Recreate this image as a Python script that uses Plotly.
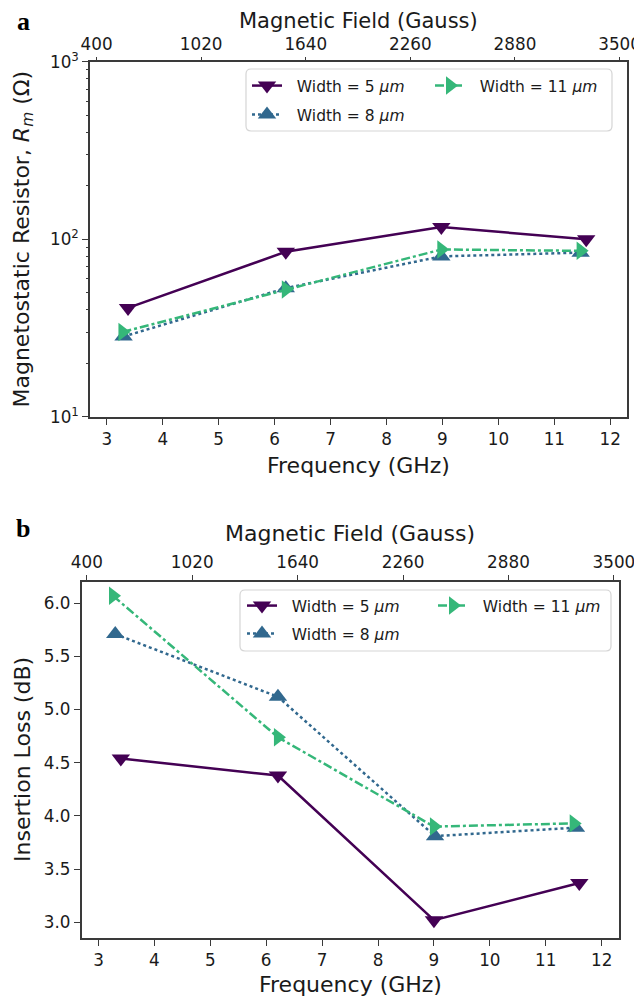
import plotly.graph_objects as go

# ---- data ----
freq_5 = [3.38, 6.2, 8.98, 11.57]
freq_8 = [3.3, 6.2, 8.98, 11.47]
freq_11 = [3.28, 6.2, 8.98, 11.47]
rm_5 = [41, 85, 117, 100]
rm_8 = [28.3, 53, 80, 84]
rm_11 = [30, 52, 87.5, 86]

freq_b5 = [3.40, 6.21, 9.0, 11.6]
freq_b8 = [3.30, 6.21, 9.02, 11.54]
freq_b11 = [3.26, 6.21, 9.0, 11.5]
il_5 = [4.54, 4.38, 3.02, 3.37]
il_8 = [5.71, 5.12, 3.81, 3.89]
il_11 = [6.07, 4.74, 3.90, 3.93]

field_ticks = [400, 1020, 1640, 2260, 2880, 3500]
freq_ticks = [3, 4, 5, 6, 7, 8, 9, 10, 11, 12]
rm_major = [10, 100, 1000]
rm_major_text = ["10<sup>1</sup>", "10<sup>2</sup>", "10<sup>3</sup>"]
rm_minor = [20, 30, 40, 50, 60, 70, 80, 90, 200, 300, 400, 500, 600, 700, 800, 900]
il_ticks = [3.0, 3.5, 4.0, 4.5, 5.0, 5.5, 6.0]

series_names = ["Width = 5 <i>μm</i>", "Width = 8 <i>μm</i>", "Width = 11 <i>μm</i>"]
colors = ["#440154", "#31688e", "#35b779"]
dashes = ["solid", "dot", "dashdot"]
symbols = ["triangle-down", "triangle-up", "triangle-right"]

# page is offset by the 8px body margin
W, H = 634, 996
OFF = 8


def fx(x):
    return (x - OFF) / W


def fy(y):
    return 1 - (y - OFF) / H


FONT = "DejaVu Sans"
TXT = "#1a1a1a"
SP = "#3a3a3a"
NB = "\u00a0\u00a0"

fig = go.Figure()

panel_a = [(freq_5, rm_5), (freq_8, rm_8), (freq_11, rm_11)]
panel_b = [(freq_b5, il_5), (freq_b8, il_8), (freq_b11, il_11)]

legs_a = ["legend", "legend2", "legend3"]
legs_b = ["legend4", "legend5", "legend6"]

for i, (xs, ys) in enumerate(panel_a):
    fig.add_trace(go.Scatter(
        x=xs, y=ys, mode="lines+markers", name=NB + series_names[i],
        line=dict(color=colors[i], width=2.5, dash=dashes[i]),
        marker=dict(symbol=symbols[i], size=16, color=colors[i]),
        xaxis="x", yaxis="y", legend=legs_a[i]))
for i, (xs, ys) in enumerate(panel_b):
    fig.add_trace(go.Scatter(
        x=xs, y=ys, mode="lines+markers", name=NB + series_names[i],
        line=dict(color=colors[i], width=2.5, dash=dashes[i]),
        marker=dict(symbol=symbols[i], size=16, color=colors[i]),
        xaxis="x2", yaxis="y2", legend=legs_b[i]))

# dummy traces to activate the secondary axes (top field axes, minor log ticks)
fig.add_trace(go.Scatter(x=[400, 3500], y=[None, None], xaxis="x3", yaxis="y",
                         showlegend=False, hoverinfo="skip", mode="lines"))
fig.add_trace(go.Scatter(x=[400, 3500], y=[None, None], xaxis="x4", yaxis="y2",
                         showlegend=False, hoverinfo="skip", mode="lines"))
fig.add_trace(go.Scatter(x=[None], y=[None], xaxis="x", yaxis="y3",
                         showlegend=False, hoverinfo="skip", mode="lines"))

dom_a_x = [fx(90), fx(626.5)]
dom_a_y = [fy(416.7), fy(61.7)]
dom_b_x = [fx(81.7), fx(619)]
dom_b_y = [fy(937.7), fy(582.3)]

tickfont = dict(family=FONT, size=16.8, color=TXT)

axis_style = dict(showgrid=False, zeroline=False, showline=True, linecolor=SP,
                  linewidth=1.6, ticks="outside", tickwidth=1.3,
                  tickcolor=SP, tickfont=tickfont, automargin=False)

legend_common = dict(xanchor="left", yanchor="middle", orientation="v",
                     bgcolor="rgba(0,0,0,0)", borderwidth=0,
                     font=dict(family=FONT, size=15.5, color=TXT))


def leg(marker_x, row_y):
    return dict(x=fx(marker_x - 22), y=fy(row_y), **legend_common)


def rounded_box(x0, y0, x1, y1, r=5):
    X0, X1 = fx(x0), fx(x1)
    Y0, Y1 = fy(y0), fy(y1)  # Y0 top (larger), Y1 bottom
    rx, ry = r / W, r / H
    return (f"M {X0 + rx},{Y0} L {X1 - rx},{Y0} Q {X1},{Y0} {X1},{Y0 - ry} "
            f"L {X1},{Y1 + ry} Q {X1},{Y1} {X1 - rx},{Y1} "
            f"L {X0 + rx},{Y1} Q {X0},{Y1} {X0},{Y1 + ry} "
            f"L {X0},{Y0 - ry} Q {X0},{Y0} {X0 + rx},{Y0} Z")


def title_ann(text, x, y, angle=0, yanchor="middle", size=22):
    return dict(text=text, x=fx(x), y=fy(y), xref="paper", yref="paper",
                xanchor="center", yanchor=yanchor, showarrow=False,
                textangle=angle, font=dict(family=FONT, size=size, color=TXT),
                borderpad=0)


fig.update_layout(
    template="none",
    width=W, height=H, margin=dict(l=0, r=0, t=0, b=0, autoexpand=False),
    paper_bgcolor="white", plot_bgcolor="white",
    font=dict(family=FONT, color=TXT),
    xaxis=dict(domain=dom_a_x, anchor="y", range=[2.7, 12.29], tickvals=freq_ticks,
               mirror=True, ticklen=6, **axis_style),
    yaxis=dict(domain=dom_a_y, anchor="x", type="log", range=[1, 3], tickvals=rm_major,
               ticktext=rm_major_text, mirror=True, ticklen=6, **axis_style),
    yaxis3=dict(domain=dom_a_y, anchor="x", overlaying="y", side="left", type="log",
                range=[1, 3], tickvals=rm_minor, showticklabels=False, showgrid=False,
                zeroline=False, showline=False, ticks="outside", ticklen=3.5,
                tickwidth=1.1, tickcolor=SP, automargin=False),
    xaxis3=dict(domain=dom_a_x, anchor="y", overlaying="x", side="top",
                range=[361, 3541], tickvals=field_ticks, ticklen=3, **axis_style),
    xaxis2=dict(domain=dom_b_x, anchor="y2", range=[2.70, 12.31], tickvals=freq_ticks,
                mirror=True, ticklen=6, **axis_style),
    yaxis2=dict(domain=dom_b_y, anchor="x2", range=[2.855, 6.197], tickvals=il_ticks,
                tickformat=".1f", mirror=True, ticklen=6, **axis_style),
    xaxis4=dict(domain=dom_b_x, anchor="y2", overlaying="x2", side="top",
                range=[370, 3530], tickvals=field_ticks, ticklen=6, **axis_style),
    legend=leg(269, 86),
    legend2=leg(269, 115),
    legend3=leg(452, 86),
    legend4=leg(264, 606),
    legend5=leg(264, 634),
    legend6=leg(455, 606),
    shapes=[
        dict(type="path", path=rounded_box(246, 69, 612, 131), xref="paper", yref="paper",
             line=dict(color="#d5d5d5", width=1.2), fillcolor="rgba(255,255,255,0.8)",
             layer="above"),
        dict(type="path", path=rounded_box(240, 590, 611, 651), xref="paper", yref="paper",
             line=dict(color="#d5d5d5", width=1.2), fillcolor="rgba(255,255,255,0.8)",
             layer="above"),
    ],
    annotations=[
        title_ann("Magnetic Field (Gauss)", 358, 8, yanchor="top", size=21),
        title_ann("Frequency (GHz)", 358, 466),
        title_ann("Magnetostatic Resistor, <i>R</i><sub><i>m</i></sub> (Ω)", 23, 239.5, -90),
        title_ann("Magnetic Field (Gauss)", 350, 533),
        title_ann("Frequency (GHz)", 350, 984),
        title_ann("Insertion Loss (dB)", 22, 760, -90),
        dict(text="<b>a</b>", x=fx(23), y=fy(22), xref="paper", yref="paper",
             xanchor="center", yanchor="middle", showarrow=False,
             font=dict(family="Liberation Serif", size=26, color="black")),
        dict(text="<b>b</b>", x=fx(23), y=fy(528), xref="paper", yref="paper",
             xanchor="center", yanchor="middle", showarrow=False,
             font=dict(family="Liberation Serif", size=26, color="black")),
    ],
)

fig.write_html("out.html")
